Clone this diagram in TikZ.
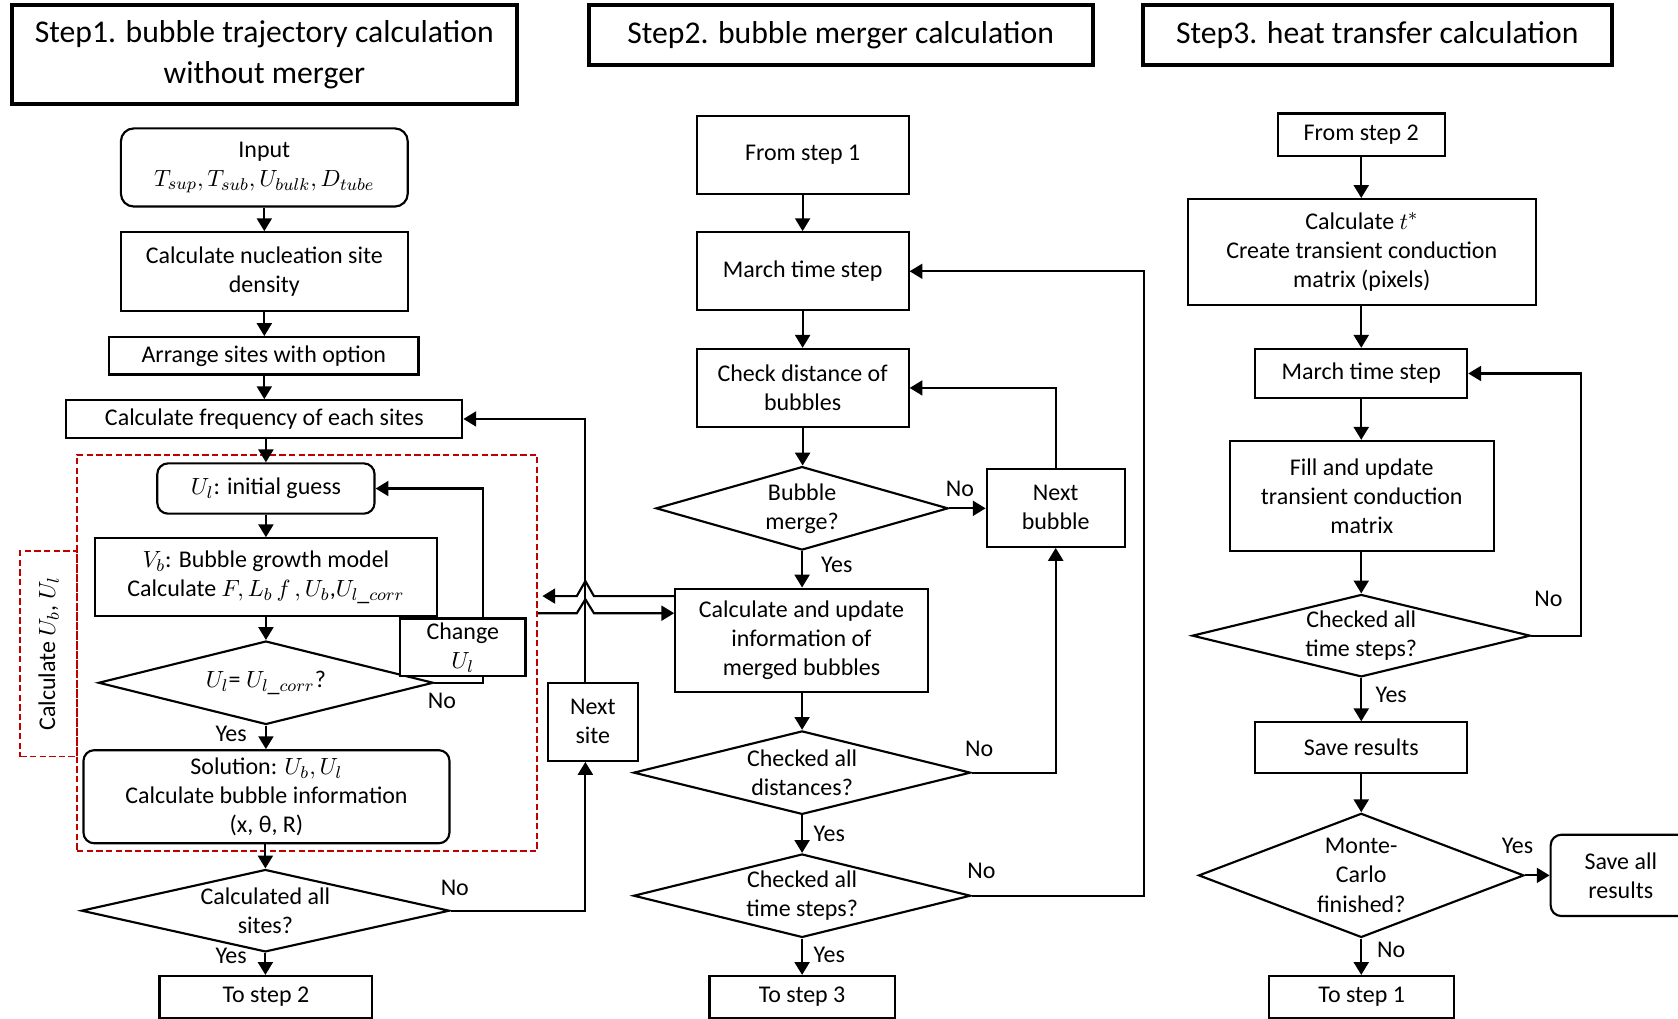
\documentclass[tikz,border=0pt]{standalone}
\usepackage{fontspec}
\setmainfont{Carlito}
\usetikzlibrary{arrows.meta,shapes.geometric}
\definecolor{redd}{RGB}{192,0,0}
\newcommand{\bodyfont}{\fontsize{11.2}{13.6}\selectfont}
\newcommand{\titlefont}{\fontsize{14.8}{19}\selectfont}

\tikzset{
  x=0.5pt, y=-0.5pt,
  sz/.style 2 args={minimum width=#1, minimum height=#2},
  base/.style={draw, line width=1pt, align=center, inner sep=0pt, font=\bodyfont},
  box/.style={base, rectangle},
  rbox/.style={base, rectangle, rounded corners=5pt},
  title/.style={draw, line width=1.8pt, align=center, inner sep=0pt, font=\titlefont},
  dia/.style={draw, line width=1pt, diamond, inner sep=0pt},
  dtxt/.style={label={[font=\bodyfont, align=center, inner sep=0pt]center:{#1}}},
  lab/.style={font=\bodyfont, inner sep=0pt},
  arr/.style={line width=1pt, -{Triangle[length=6pt,width=7pt]}},
  reddash/.style={draw=redd, line width=0.8pt, dash pattern=on 3pt off 1.5pt, inner sep=0pt},
}

\begin{document}
\begin{tikzpicture}
\useasboundingbox (0,0) rectangle (1568,952);
\clip (0,0) rectangle (1568,952);

% ---- titles
\node[title, sz={236pt}{46pt}] (t1) at (247,51) {Step1. bubble trajectory calculation\\without merger};
\node[title, sz={235.5pt}{28pt}] (t2) at (785.5,33) {Step2. bubble merger calculation};
\node[title, sz={219pt}{28pt}] (t3) at (1287,33) {Step3. heat transfer calculation};

% ---- step 1: trajectory without merger
\node[rbox, rounded corners=6pt, sz={134pt}{36.5pt}] (in) at (247,156.5) {Input\\$T_{sup}, T_{sub}, U_{bulk}, D_{tube}$};
\node[box, sz={134pt}{37pt}] (nuc) at (247,254) {Calculate nucleation site\\density};
\node[box, sz={144.5pt}{17.5pt}] (arng) at (246.5,332.5) {Arrange sites with option};
\node[box, sz={185pt}{17.5pt}] (frq) at (247,391.5) {Calculate frequency of each sites};
\node[reddash, sz={215pt}{185pt}] (rb) at (287,610) {};
\node[reddash, sz={26.5pt}{96pt}] (rs) at (45.5,611) {};
\node[lab, rotate=90] (rst) at (rs) {Calculate $U_b$, $U_l$};
\node[rbox, sz={101.5pt}{23.5pt}] (ul) at (248.5,456.5) {$U_l$: initial guess};
\node[box, sz={159.5pt}{36.5pt}] (vb) at (248.5,539.5) {$V_b$: Bubble growth model\\Calculate $F, L_b\, f\,, U_b$,$U_{l\_corr}$};
\node[dia, sz={156.5pt}{39pt}, dtxt={$U_l$= $U_{l\_corr}$?}] (d1) at (248.5,638) {};
\draw[arr] (d1.east) -- ++(45,0) |- (ul.east);
\node[box, fill=white, sz={58.5pt}{27pt}] (chg) at (432.5,605) {Change\\$U_l$};
\node[rbox, sz={171pt}{43.5pt}] (sol) at (249,744.5) {Solution: $U_b, U_l$\\Calculate bubble information\\(x, θ, R)};
\node[dia, sz={172pt}{38.5pt}, dtxt={Calculated all\\sites?}] (d2) at (248,851) {};
\node[box, sz={99.5pt}{19.5pt}] (ts2) at (248.5,931.5) {To step 2};
\node[box, sz={42pt}{36.5pt}] (ns) at (554,674.5) {Next\\site};

\draw[arr] (in.south) -- (in.south |- nuc.north);
\draw[arr] (nuc.south) -- (nuc.south |- arng.north);
\draw[arr] (arng.south -| frq.north) -- (frq.north);
\draw[arr] (ul.north |- frq.south) -- (ul.north);
\draw[arr] (ul.south) -- (ul.south |- vb.north);
\draw[arr] (vb.south) -- (d1.north);
\draw[arr] (d1.south) -- (d1.south |- sol.north);
\draw[arr] (sol.south -| d2.north) -- (d2.north);
\draw[arr] (d2.south) -- (d2.south |- ts2.north);
\draw[arr] (d2.east) -| ([xshift=-3.5pt]ns.south);
\draw[arr] ([xshift=-3.5pt]ns.north) |- (frq.east);

\node[lab] at (413,655) {No};
\node[lab] at (216,686) {Yes};
\node[lab] at (425,830) {No};
\node[lab] at (216,893) {Yes};

% ---- step 2: bubble merger
\node[box, sz={99pt}{36.5pt}] (fs1) at (750,144.5) {From step 1};
\node[box, sz={99pt}{36.5pt}] (mts) at (750,253.5) {March time step};
\node[box, sz={99pt}{36.5pt}] (chk) at (750,362.5) {Check distance of\\bubbles};
\node[dia, sz={136.5pt}{39pt}, dtxt={Bubble\\merge?}] (dm) at (749.5,475) {};
\node[box, sz={64.5pt}{36.5pt}] (nb) at (986.5,474.5) {Next\\bubble};
\node[box, sz={118pt}{48.5pt}] (cu) at (749,598.5) {Calculate and update\\information of\\merged bubbles};
\node[dia, sz={157.5pt}{39pt}, dtxt={Checked all\\distances?}] (dd) at (749.5,722) {};
\node[dia, sz={157.5pt}{39pt}, dtxt={Checked all\\time steps?}] (dt) at (749.5,837) {};
\node[box, sz={86.5pt}{19.5pt}] (ts3) at (749.5,931.5) {To step 3};

\draw[arr] (fs1.south) -- (mts.north);
\draw[arr] (mts.south) -- (chk.north);
\draw[arr] (chk.south) -- (chk.south |- dm.north);
\draw[arr] (dm.south) -- (dm.south |- cu.north);
\draw[arr] (cu.south -| dd.north) -- (dd.north);
\draw[arr] (dd.south) -- (dt.north);
\draw[arr] (dt.south) -- (ts3.north);
\draw[arr] (dm.east) -- (dm.east -| nb.west);
\draw[arr] (nb.north) |- (chk.east);
\draw[arr] (dd.east) -| (nb.south);
\draw[arr] (dt.east) -- ++(161,0) |- (mts.east);

% exchange between steps 1 and 2, hopping over the "next site" line
\coordinate (jA) at (547,557);
\coordinate (jB) at (547,573);
\draw[arr] (cu.west |- jA) -- ([xshift=4pt]jA) -- ([yshift=7pt]jA) -- ([xshift=-4pt]jA) -- ([xshift=2pt]rb.east |- jA);
\draw[arr] (rb.east |- jB) -- ([xshift=-4pt]jB) -- ([yshift=6.5pt]jB) -- ([xshift=4pt]jB) -- (cu.west |- jB);

\node[lab] at (897,457) {No};
\node[lab] at (782,528) {Yes};
\node[lab] at (915,700) {No};
\node[lab] at (775,779) {Yes};
\node[lab] at (917,814) {No};
\node[lab] at (775,892) {Yes};

% ---- step 3: heat transfer
\node[box, sz={78pt}{20pt}] (fs2) at (1272,126) {From step 2};
\node[box, sz={162.5pt}{49.5pt}] (ct) at (1272.5,235.5) {Calculate $t^*$\\Create transient conduction\\matrix (pixels)};
\node[box, sz={99pt}{23pt}] (m3) at (1272,349) {March time step};
\node[box, sz={123.5pt}{51.5pt}] (fu) at (1272.5,463.5) {Fill and update\\transient conduction\\matrix};
\node[dia, sz={158pt}{38.5pt}, dtxt={Checked all\\time steps?}] (d3) at (1272,594) {};
\node[box, sz={99pt}{23.5pt}] (sr) at (1272,698.5) {Save results};
\node[dia, sz={152pt}{58pt}, dtxt={Monte-\\Carlo\\finished?}] (mc) at (1272,818) {};
\node[rbox, sz={65.5pt}{38pt}] (sa) at (1514.5,818) {Save all\\results};
\node[box, sz={86.5pt}{19.5pt}] (ts1) at (1272.5,931.5) {To step 1};

\draw[arr] (fs2.south) -- (fs2.south |- ct.north);
\draw[arr] (ct.south -| m3.north) -- (m3.north);
\draw[arr] (m3.south) -- (m3.south |- fu.north);
\draw[arr] (fu.south -| d3.north) -- (d3.north);
\draw[arr] (d3.south) -- (sr.north);
\draw[arr] (sr.south) -- (mc.north);
\draw[arr] (mc.south) -- (mc.south |- ts1.north);
\draw[arr] (d3.east) -- ++(46,0) |- (m3.east);
\draw[arr] (mc.east) -- (sa.west);

\node[lab] at (1447,560) {No};
\node[lab] at (1300,649) {Yes};
\node[lab] at (1418,790) {Yes};
\node[lab] at (1300,888) {No};
\end{tikzpicture}
\end{document}
